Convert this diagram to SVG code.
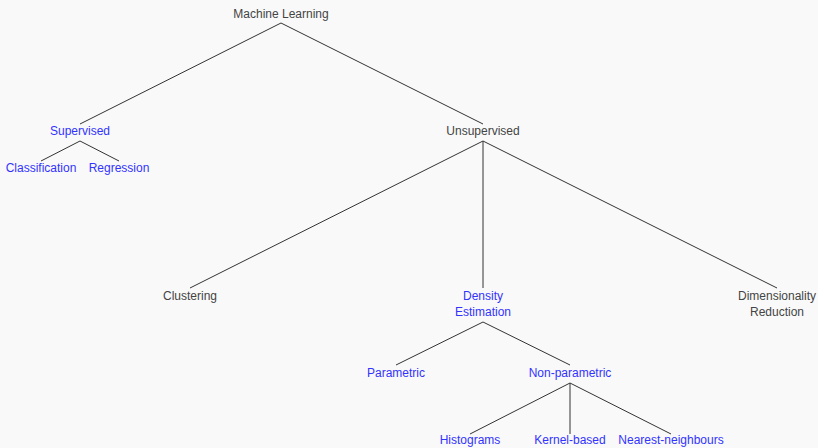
<svg xmlns="http://www.w3.org/2000/svg" width="818" height="448" viewBox="0 0 818 448">
<style>
text{font-family:"Liberation Sans",Arial,sans-serif;font-size:12px;text-anchor:middle}
.g{fill:#444}
.b{fill:#3333ff}
#edges line{stroke:#333;stroke-width:1}
</style>
<rect width="818" height="448" fill="#f9f9f9"/>
<g id="edges">
<line x1="281" y1="23" x2="80" y2="124"/>
<line x1="281" y1="23" x2="483" y2="124"/>
<line x1="80" y1="141" x2="41" y2="161"/>
<line x1="80" y1="141" x2="119" y2="161"/>
<line x1="483" y1="141" x2="190" y2="288"/>
<line x1="483" y1="141" x2="483" y2="288"/>
<line x1="483" y1="141" x2="777" y2="288"/>
<line x1="483" y1="322" x2="396" y2="365"/>
<line x1="483" y1="322" x2="570" y2="365"/>
<line x1="570" y1="383" x2="470" y2="434"/>
<line x1="570" y1="383" x2="570" y2="434"/>
<line x1="570" y1="383" x2="671" y2="434"/>
</g>
<g id="n-ml"><text class="g" x="281" y="18">Machine Learning</text></g>
<g id="n-sup"><text class="b" x="80" y="135">Supervised</text></g>
<g id="n-cls"><text class="b" x="41" y="172">Classification</text></g>
<g id="n-reg"><text class="b" x="119" y="172">Regression</text></g>
<g id="n-unsup"><text class="g" x="483" y="135">Unsupervised</text></g>
<g id="n-clu"><text class="g" x="190" y="300">Clustering</text></g>
<g id="n-den"><text class="b" x="483" y="300">Density</text><text class="b" x="483" y="316">Estimation</text></g>
<g id="n-dim"><text class="g" x="777" y="300">Dimensionality</text><text class="g" x="777" y="316">Reduction</text></g>
<g id="n-par"><text class="b" x="396" y="377">Parametric</text></g>
<g id="n-npar"><text class="b" x="570" y="377">Non-parametric</text></g>
<g id="n-his"><text class="b" x="470" y="444">Histograms</text></g>
<g id="n-ker"><text class="b" x="570" y="444">Kernel-based</text></g>
<g id="n-nn"><text class="b" x="671" y="444">Nearest-neighbours</text></g>
</svg>
